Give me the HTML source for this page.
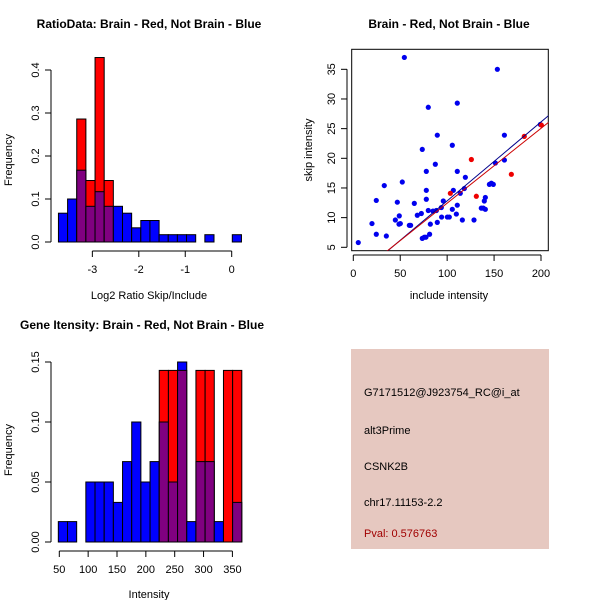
<!DOCTYPE html>
<html><head><meta charset="utf-8"><style>
html,body{margin:0;padding:0;background:#fff;}
svg{display:block;font-family:"Liberation Sans",Arial,sans-serif;}
</style></head><body>
<svg id="c" width="600" height="600" viewBox="0 0 600 600">
<rect x="0" y="0" width="600" height="600" fill="#fff"/>
<text x="149" y="28" font-size="12" font-weight="bold" text-anchor="middle">RatioData: Brain - Red, Not Brain - Blue</text>
<text x="449" y="28" font-size="12" font-weight="bold" text-anchor="middle">Brain - Red, Not Brain - Blue</text>
<text x="142" y="329" font-size="12" font-weight="bold" text-anchor="middle">Gene Itensity: Brain - Red, Not Brain - Blue</text>
<text x="149" y="299" font-size="11" text-anchor="middle">Log2 Ratio Skip/Include</text>
<text x="149" y="598" font-size="11" text-anchor="middle">Intensity</text>
<text x="449" y="299" font-size="11" text-anchor="middle">include intensity</text>
<text transform="translate(12,160) rotate(-90)" font-size="11" text-anchor="middle">Frequency</text>
<text transform="translate(12,450) rotate(-90)" font-size="11" text-anchor="middle">Frequency</text>
<text transform="translate(312,150) rotate(-90)" font-size="11" text-anchor="middle">skip intensity</text>
<rect x="351" y="349" width="198" height="200" fill="#e6c8c0"/>
<text x="364" y="396" font-size="11">G7171512@J923754_RC@i_at</text>
<text x="364" y="434" font-size="11">alt3Prime</text>
<text x="364" y="470" font-size="11">CSNK2B</text>
<text x="364" y="506" font-size="11">chr17.11153-2.2</text>
<text x="364" y="537" font-size="11" fill="#a00000">Pval: 0.576763</text>
<g id="g1"></g><g id="g2"></g><g id="g3"></g>
</svg>
<script>
// Ratio histogram data
const ratioBinStart = -3.73;
const ratioBinWidth = 0.197;
const ratioBlue = [0.067,0.1,0.167,0.083,0.117,0.083,0.083,0.067,0.033,0.05,0.05,0.017,0.017,0.017,0.017,0,0.017,0,0,0.017];
const ratioRed = [0,0,0.286,0.143,0.429,0.143,0,0,0,0,0,0,0,0,0,0,0,0,0,0];
const ratioXTicks = [-3,-2,-1,0];
const ratioYTicks = [0,0.1,0.2,0.3,0.4];
// Intensity histogram data
const intBinStart = 48.3;
const intBinWidth = 15.9;
const intBlue = [0.017,0.017,0,0.05,0.05,0.05,0.033,0.067,0.1,0.05,0.067,0.1,0.05,0.15,0.017,0.067,0.067,0.017,0,0.033];
const intRed = [0,0,0,0,0,0,0,0,0,0,0,0.143,0.143,0.143,0,0.143,0.143,0,0.143,0.143];
const intXTicks = [50,100,150,200,250,300,350];
const intYTicks = [0,0.05,0.1,0.15];
const intYLabels = ["0.00","0.05","0.10","0.15"];
// Scatter data
const blueX = [5.3,19.9,24.5,24.5,33,35.2,44.8,46.9,49,48.7,50.1,52.2,54.4,59.7,61.1,65,68.2,72.5,73.5,73.5,75.7,77.4,77.8,77.8,77.8,79.9,79.9,81.3,82.1,84.9,87.4,88.5,89.5,89.5,93.8,94.1,95.9,100.2,102.3,105.5,105.5,106.6,109.8,110.8,110.8,110.8,114,116.2,118.3,119.4,128.6,136.4,138.5,139.6,140.7,140.7,145,147.1,149.2,151.4,153.5,161,161,199.3];
const blueY = [5.8,9.0,12.9,7.2,15.4,6.9,9.6,12.6,10.3,8.9,9.0,16.0,37.0,8.7,8.7,12.4,10.4,10.7,21.5,6.5,6.7,6.7,13.1,14.6,17.8,28.6,11.2,7.2,8.9,11.1,19.0,11.2,23.9,9.2,11.7,10.1,12.8,10.1,10.1,22.2,11.4,14.6,10.6,29.3,17.8,12.1,14.1,9.6,14.9,16.8,9.6,11.6,11.6,12.8,13.4,11.4,15.6,15.8,15.6,19.2,35.0,23.9,19.7,25.7];
const redX = [103.4,125.8,131.1,168.4,182.2,200.4];
const redY = [14.1,19.8,13.6,17.3,23.7,25.6];
const blueFit = [-0.47,0.133];
const redFit = [-0.17,0.1261];
const scXTicks = [0,50,100,150,200];
const scYTicks = [5,10,15,20,25,30,35];

const NS="http://www.w3.org/2000/svg";
function mk(parent,tag,attrs){const e=document.createElementNS(NS,tag);for(const k in attrs)e.setAttribute(k,attrs[k]);parent.appendChild(e);return e;}

function hist(g,binStart,binW,red,blue,sx,sy,prefix){
  for(let i=0;i<blue.length;i++){
    const x0=sx(binStart+i*binW),x1=sx(binStart+(i+1)*binW);
    const r=red[i],b=blue[i],lo=Math.min(r,b),hi=Math.max(r,b);
    if(hi>0){
      const col=(r>b)?"#ff0000":"#0000ff";
      const e=mk(g,"rect",{x:x0,y:sy(hi),width:x1-x0,height:sy(0)-sy(hi),fill:col,stroke:"#000","stroke-width":1});
      
      
    }
    if(lo>0){
      const e=mk(g,"rect",{x:x0,y:sy(lo),width:x1-x0,height:sy(0)-sy(lo),fill:"#800080",stroke:"#000","stroke-width":1});
      
      
    }
  }
}
function axes(g,xt,xl,yt,yl,sx,sy,xAxisY,yAxisX,prefix){
  mk(g,"line",{x1:sx(xt[0]),x2:sx(xt[xt.length-1]),y1:xAxisY,y2:xAxisY,stroke:"#000"});
  xt.forEach((v,i)=>{mk(g,"line",{x1:sx(v),x2:sx(v),y1:xAxisY,y2:xAxisY+6,stroke:"#000"});
    const t=mk(g,"text",{x:sx(v),y:xAxisY+22,"font-size":11,"text-anchor":"middle"});t.textContent=xl[i];
    
    });
  mk(g,"line",{x1:yAxisX,x2:yAxisX,y1:sy(yt[0]),y2:sy(yt[yt.length-1]),stroke:"#000"});
  yt.forEach((v,i)=>{mk(g,"line",{x1:yAxisX-6,x2:yAxisX,y1:sy(v),y2:sy(v),stroke:"#000"});
    const t=mk(g,"text",{transform:`translate(${yAxisX-12},${sy(v)}) rotate(-90)`,"font-size":11,"text-anchor":"middle"});t.textContent=yl[i];
    
    });
}
// Plot 1
{const g=document.getElementById('g1');
 const sx=v=>231.7+v*46.45, sy=v=>242-v*430;
 hist(g,ratioBinStart,ratioBinWidth,ratioRed,ratioBlue,sx,sy,'ratio');
 axes(g,ratioXTicks,ratioXTicks.map(String),ratioYTicks,ratioYTicks.map(v=>v.toFixed(1)),sx,sy,251,51,'ratio');}
// Plot 3
{const g=document.getElementById('g3');
 const sx=v=>59.3+(v-50)*0.577, sy=v=>542-v*1200;
 hist(g,intBinStart,intBinWidth,intRed,intBlue,sx,sy,'intensity');
 axes(g,intXTicks,intXTicks.map(String),intYTicks,intYLabels,sx,sy,551,51,'intensity');}
// Plot 2 scatter
{const g=document.getElementById('g2');
 const sx=v=>353.3+v*0.9385, sy=v=>247.3-(v-5)*5.933;
 const L=351.7,R=548.3,T=49.3,B=250.7;
 mk(g,"rect",{x:L,y:T,width:R-L,height:B-T,fill:"none",stroke:"#000"});
 const cp=mk(g,"clipPath",{id:"clip"});mk(cp,"rect",{x:L,y:T,width:R-L,height:B-T});
 axes(g,scXTicks,scXTicks.map(String),scYTicks,scYTicks.map(String),sx,sy,255,347,'scatter');
 g.lastChild; 
 blueX.forEach((x,i)=>{const c=mk(g,"circle",{cx:sx(x),cy:sy(blueY[i]),r:2.6,fill:"#0000ee"});
   
   });
 redX.forEach((x,i)=>{const c=mk(g,"circle",{cx:sx(x),cy:sy(redY[i]),r:2.6,fill:"#ee0000"});
   
   });
 [[blueFit,"#00008b",'blue-fit-line'],[redFit,"#cc0000",'red-fit-line']].forEach(([f,col,n])=>{
   const l=mk(g,"line",{x1:sx(0),y1:sy(f[0]),x2:sx(220),y2:sy(f[0]+f[1]*220),stroke:col,"stroke-width":1,"clip-path":"url(#clip)"});
   
   });
}
</script>
</body></html>
